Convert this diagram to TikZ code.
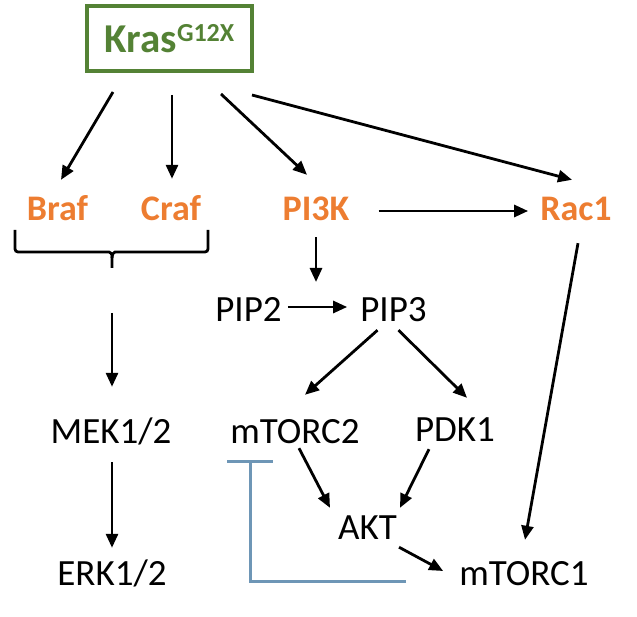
\documentclass[tikz,border=0pt]{standalone}
\usepackage{fontspec}
\setmainfont{Carlito}
\usetikzlibrary{arrows.meta,positioning,calc}
\definecolor{cRas}{HTML}{548235}
\definecolor{cKin}{HTML}{ED7D31}
\definecolor{cInh}{HTML}{6E96B6}
\tikzset{
  ras/.style ={rectangle, draw=cRas, line width=4pt, text=cRas, inner sep=0pt, outer sep=0pt,
               font=\fontsize{41}{44}\selectfont\bfseries, minimum width=165pt, minimum height=65pt},
  kin/.style ={text=cKin, font=\fontsize{36}{40}\selectfont\bfseries, text height=23pt,
               text depth=0pt, inner sep=0pt, anchor=base},
  mol/.style ={font=\fontsize{37}{40}\selectfont, text height=24pt, text depth=0pt,
               inner sep=0pt, anchor=base},
  fl/.style  ={-{Triangle[length=14pt,width=12pt]}, line width=2.8pt},
  inh/.style ={-{Bar[width=46pt]}, draw=cInh, line width=3pt},
  brc/.style ={line width=2.8pt, rounded corners=3pt},
}
\begin{document}
\begin{tikzpicture}[x=1pt,y=-1pt]
  \useasboundingbox (0,0) rectangle (637,617);
  \node[ras] (kras) at (169.5,38.5) {Kras\raisebox{11pt}{\fontsize{26}{28}\selectfont G12X}};
  \node[kin] (braf) at (57.5,221) {Braf};
  \node[kin] (craf) at (171,221) {Craf};
  \node[kin] (pi3k) at (316,221) {PI3K};
  \node[kin] (rac) at (576,221) {Rac1};
  \node[mol] (pip2) at (248.5,322) {PIP2};
  \node[mol] (pip3) at (393.5,322) {PIP3};
  \node[mol] (mek) at (111,443) {MEK1/2};
  \node[mol] (erk) at (112,585) {ERK1/2};
  \node[mol] (mtorc2) at (295,443) {mTORC2};
  \node[mol] (pdk) at (455,441) {PDK1};
  \node[mol] (akt) at (367.5,539) {AKT};
  \node[mol] (mtorc1) at (524,585) {mTORC1};
  % brace under Braf and Craf
  \coordinate (brtip) at (112,268);
  \draw[brc] (15,230) -- (15,252) -- (106,252) .. controls (110,252) and (112,254) .. (112,258) -- (brtip);
  \draw[brc] (208,230) -- (208,252) -- (118,252) .. controls (114,252) and (112,254) .. (112,258);
  \coordinate (rxn) at (317.5,307);
  % Kras effectors
  \draw[fl] ([xshift=-56.5pt,yshift=-21pt]kras.south) -- ([xshift=3.5pt,yshift=18pt]braf.north);
  \draw[fl] ([xshift=2.5pt,yshift=-24pt]kras.south) -- ([xshift=1pt,yshift=19pt]craf.north);
  \draw[fl] ([xshift=51.5pt,yshift=-23pt]kras.south) -- ([xshift=-9pt,yshift=23pt]pi3k.north);
  \draw[fl] ([xshift=82.5pt,yshift=-24pt]kras.south) -- ([xshift=-4pt,yshift=18pt]rac.north);
  \draw[fl] ([xshift=29pt,yshift=-1.5pt]pi3k.east) -- ([xshift=-12pt,yshift=-1.5pt]rac.west);
  % PI3K branch
  \draw[fl] ([yshift=-16pt]pi3k.south) -- ([xshift=-1.5pt,yshift=25pt]rxn);
  \draw[fl] ([xshift=6pt,yshift=3pt]pip2.east) -- ([xshift=-13pt,yshift=3pt]pip3.west);
  \draw[fl] ([xshift=-16pt,yshift=-8pt]pip3.south) -- ([xshift=10pt,yshift=24pt]mtorc2.north);
  \draw[fl] ([xshift=5pt,yshift=-8pt]pip3.south) -- ([xshift=12pt,yshift=19pt]pdk.north);
  \draw[fl] ([xshift=4pt,yshift=-5pt]mtorc2.south) -- ([xshift=-37.5pt,yshift=7pt]akt.north);
  \draw[fl] ([xshift=-26pt,yshift=-8pt]pdk.south) -- ([xshift=32.5pt,yshift=7pt]akt.north);
  \draw[fl] ([xshift=2pt,yshift=-8pt]akt.south east) -- ([xshift=-16pt,yshift=2pt]mtorc1.west);
  \draw[fl] ([xshift=2pt,yshift=-22pt]rac.south) -- ([xshift=1pt,yshift=21pt]mtorc1.north);
  % MAPK branch
  \draw[fl] ([yshift=-45pt]brtip) -- ([xshift=1pt,yshift=32pt]mek.north);
  \draw[fl] ([xshift=1pt,yshift=-19pt]mek.south) -- ([yshift=13pt]erk.north);
  % feedback
  \draw[inh] ([xshift=-53pt,yshift=-8pt]mtorc1.west) -| ([xshift=20pt,yshift=-17pt]mtorc2.south west);
\end{tikzpicture}
\end{document}
